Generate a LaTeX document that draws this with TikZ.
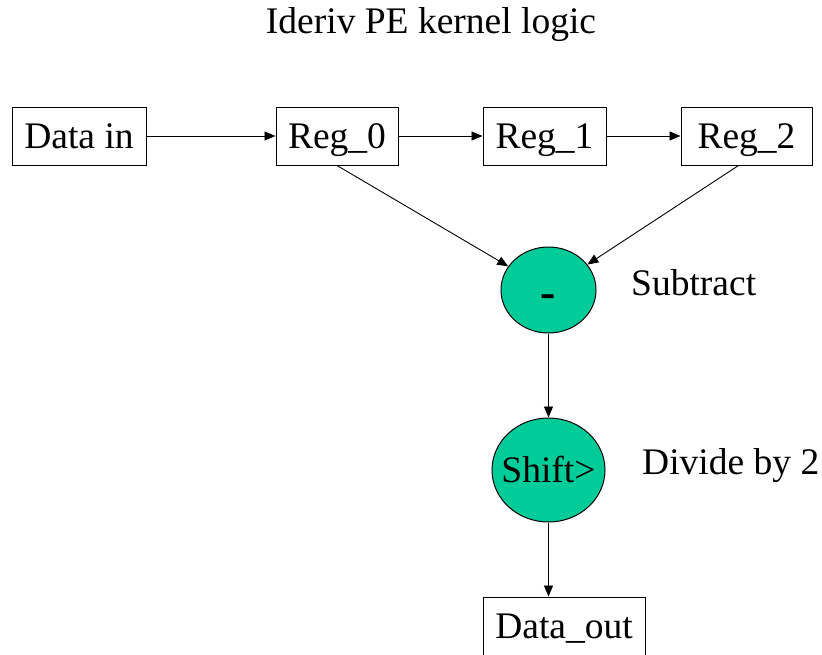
\documentclass[tikz,border=0pt]{standalone}
\usepackage{fontspec}
\setmainfont{Liberation Serif}
\usetikzlibrary{arrows.meta,shapes.geometric}
\definecolor{opgreen}{RGB}{0,204,153}

\begin{document}
\begin{tikzpicture}[x=1pt,y=-1pt,
    font=\fontsize{37.5pt}{42pt}\selectfont,
    regbox/.style={draw,line width=1pt,inner sep=0,minimum height=58pt,text height=24pt,text depth=0pt},
    opnode/.style={ellipse,draw,fill=opgreen,line width=1pt,inner sep=0,text height=24pt,text depth=0pt},
    flow/.style={-{Triangle[length=11pt,width=9pt]},line width=0.9pt}]
    \clip (0,0) rectangle (822,654);
    \node (title) at (431,24.5) {Ideriv PE kernel logic};
    % register chain
    \node[regbox,minimum width=134pt] (datain) at (79,136) {Data in};
    \node[regbox,minimum width=122pt] (reg0) at (337,136) {Reg\_0};
    \node[regbox,minimum width=123pt] (reg1) at (544.5,136) {Reg\_1};
    \node[regbox,minimum width=131pt] (reg2) at (746.5,136) {Reg\_2};
    % arithmetic
    \node[opnode,minimum width=95pt,minimum height=86pt] (sub) at (548.5,290) {\makebox[0pt]{\raisebox{-5pt}{\fontsize{46pt}{46pt}\selectfont\bfseries -}}};
    \node[opnode,minimum width=113pt,minimum height=104pt] (shift) at (548.5,470) {\makebox[0pt]{Shift>}};
    \node[regbox,minimum width=162pt] (dataout) at (564,626) {Data\_out};
    \node[anchor=west,inner sep=0] (subtext) at (631,283) {Subtract};
    \node[anchor=west,inner sep=0] (divtext) at (642,466) {Divide by 2};
    \draw[flow] (datain) -- (reg0);
    \draw[flow] (reg0) -- (reg1);
    \draw[flow] (reg1) -- (reg2);
    \draw[flow] (reg0.south) -- (sub);
    \draw[flow] ([xshift=-8pt]reg2.south) -- (sub);
    \draw[flow] (sub) -- (shift);
    \draw[flow] (shift) -- (shift |- dataout.north);
\end{tikzpicture}
\end{document}
